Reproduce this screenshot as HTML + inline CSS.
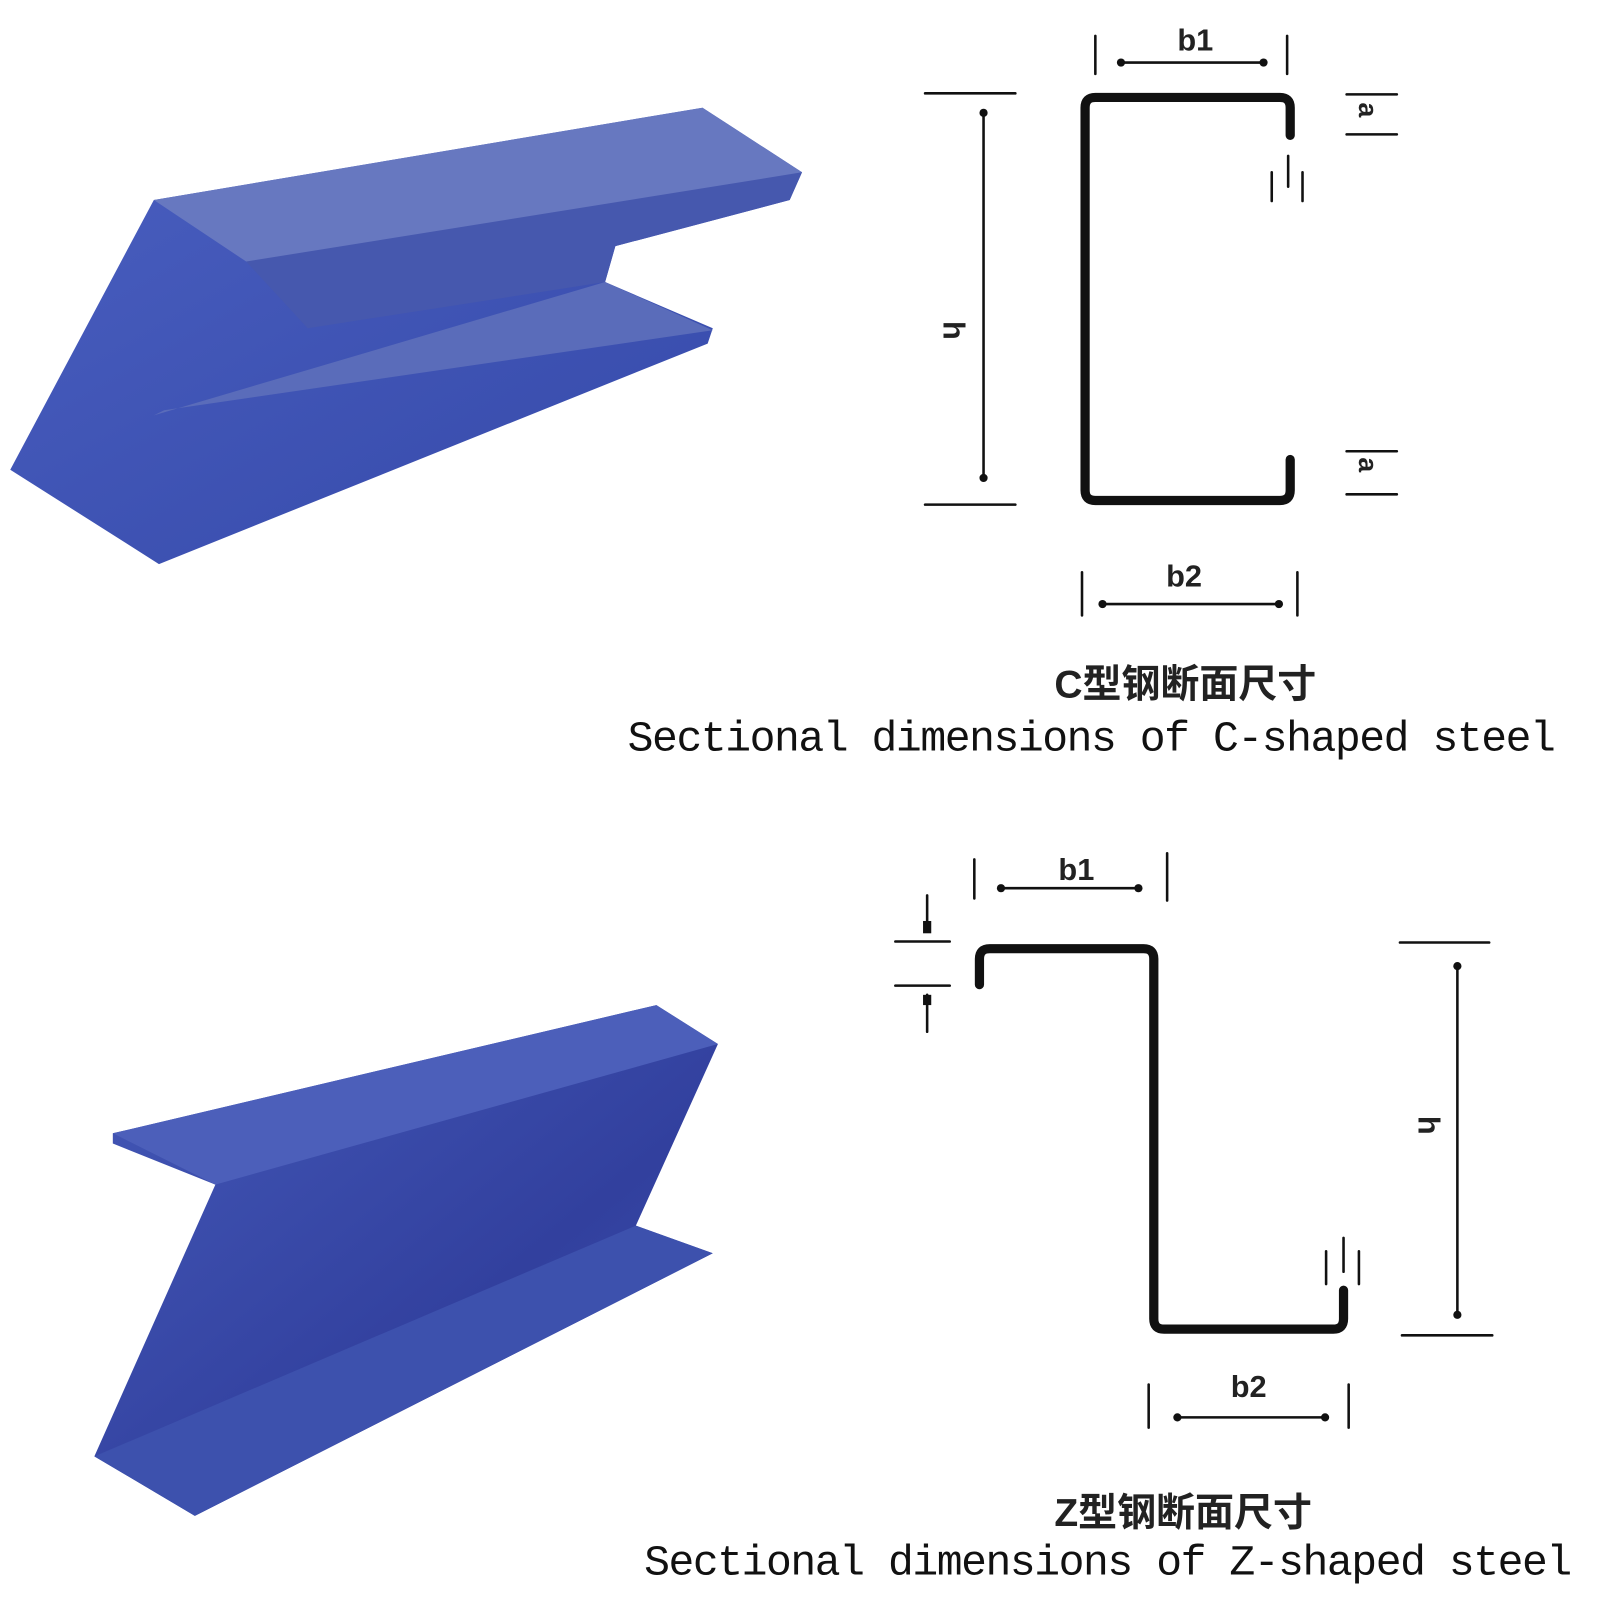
<!DOCTYPE html>
<html><head><meta charset="utf-8"><style>
html,body{margin:0;padding:0;background:#fff;width:1600px;height:1600px;overflow:hidden}
svg{display:block}
.t{font-family:"Liberation Sans","Noto Sans CJK SC",sans-serif;font-weight:bold;fill:#222}
.m{font-family:"Liberation Mono","DejaVu Sans Mono",monospace;fill:#111}
</style></head><body>
<svg width="1600" height="1600" viewBox="0 0 1600 1600" xmlns="http://www.w3.org/2000/svg">
<defs>
<linearGradient id="g1" x1="0" y1="0" x2="1" y2="1"><stop offset="0" stop-color="#4a5fc0"/><stop offset="1" stop-color="#3448a8"/></linearGradient>
<linearGradient id="g2" x1="0" y1="0" x2="1" y2="1"><stop offset="0" stop-color="#4459b8"/><stop offset="0.6" stop-color="#32409e"/><stop offset="1" stop-color="#3d52b0"/></linearGradient>
</defs>
<g transform="scale(1.0256)">
<!-- C beam -->
<polygon points="150,195 685,105 782,168 770,195 600,240 590,275 695,320 690,335 155,550 10,458" fill="url(#g1)"/>
<polygon points="150,195 685,105 782,168 300,295 240,255" fill="#6778c0"/>
<polygon points="240,255 782,168 770,195 600,240 590,275 300,320" fill="#4658ae"/>
<polygon points="150,405 590,275 695,322 160,400" fill="#5a6cba"/>
<!-- Z beam -->
<polygon points="110,1105 640,980 700,1018 620,1195 695,1222 190,1478 92,1420 210,1155 110,1115" fill="url(#g2)"/>
<polygon points="110,1105 640,980 700,1018 210,1155" fill="#4c5fba"/>
<polygon points="92,1420 620,1195 695,1222 190,1478" fill="#3d51ad"/>

<g stroke="#111" fill="none" stroke-linecap="round">
<path d="M1258,132 V105 Q1258,95 1248,95 H1068 Q1058,95 1058,105 V478 Q1058,488 1068,488 H1248 Q1258,488 1258,478 V448" stroke-width="9"/>
<g stroke-width="2.5">
<line x1="1068" y1="35" x2="1068" y2="72"/><line x1="1255" y1="35" x2="1255" y2="72"/>
<line x1="1093" y1="61" x2="1232" y2="61"/>
<line x1="902" y1="91" x2="990" y2="91"/><line x1="902" y1="492" x2="990" y2="492"/>
<line x1="959" y1="110" x2="959" y2="466"/>
<line x1="1055" y1="558" x2="1055" y2="600"/><line x1="1265" y1="558" x2="1265" y2="600"/>
<line x1="1075" y1="589" x2="1247" y2="589"/>
<line x1="1313" y1="92" x2="1362" y2="92"/><line x1="1313" y1="131" x2="1362" y2="131"/>
<line x1="1313" y1="440" x2="1362" y2="440"/><line x1="1313" y1="482" x2="1362" y2="482"/>
<line x1="1240" y1="168" x2="1240" y2="196"/><line x1="1270" y1="168" x2="1270" y2="196"/>
<line x1="1256" y1="152" x2="1256" y2="182"/>
<line x1="950" y1="838" x2="950" y2="876"/><line x1="1138" y1="832" x2="1138" y2="878"/>
<line x1="976" y1="866" x2="1110" y2="866"/>
<line x1="873" y1="918" x2="926" y2="918"/><line x1="873" y1="961" x2="926" y2="961"/>
<line x1="904" y1="873" x2="904" y2="908"/><line x1="904" y1="970" x2="904" y2="1006"/>
<line x1="1365" y1="919" x2="1452" y2="919"/><line x1="1367" y1="1302" x2="1455" y2="1302"/>
<line x1="1421" y1="942" x2="1421" y2="1282"/>
<line x1="1120" y1="1350" x2="1120" y2="1392"/><line x1="1315" y1="1350" x2="1315" y2="1392"/>
<line x1="1148" y1="1382" x2="1292" y2="1382"/>
<line x1="1293" y1="1220" x2="1293" y2="1252"/><line x1="1325" y1="1220" x2="1325" y2="1252"/>
<line x1="1310" y1="1207" x2="1310" y2="1240"/>
</g>
<path d="M955,960 V935 Q955,925 965,925 H1115 Q1125,925 1125,935 V1286 Q1125,1296 1135,1296 H1300 Q1310,1296 1310,1286 V1258" stroke-width="9"/>
</g>
<g fill="#111">
<circle cx="1093" cy="61" r="4"/><circle cx="1232" cy="61" r="4"/>
<circle cx="959" cy="110" r="4"/><circle cx="959" cy="466" r="4"/>
<circle cx="1075" cy="589" r="4"/><circle cx="1247" cy="589" r="4"/>
<circle cx="976" cy="866" r="4"/><circle cx="1110" cy="866" r="4"/>
<circle cx="1421" cy="942" r="4"/><circle cx="1421" cy="1282" r="4"/>
<circle cx="1148" cy="1382" r="4"/><circle cx="1292" cy="1382" r="4"/>
<rect x="900" y="898" width="8" height="12"/><rect x="900" y="970" width="8" height="10"/>
</g>
<text class="t" x="1148" y="49" font-size="30">b1</text>
<text class="t" x="1137" y="572" font-size="30">b2</text>
<text class="t" x="1032" y="858" font-size="30">b1</text>
<text class="t" x="1200" y="1362" font-size="30">b2</text>
<text class="t" font-size="30" transform="translate(920,313) rotate(90)">h</text>
<text class="t" font-size="30" transform="translate(1383,1088) rotate(90)">h</text>
<text class="t" font-size="26" transform="translate(1325,100) rotate(90)">a</text>
<text class="t" font-size="26" transform="translate(1325,446) rotate(90)">a</text>
<text class="t" x="1028" y="680" font-size="38">C型钢断面尺寸</text>
<text class="t" x="1028" y="1488" font-size="38">Z型钢断面尺寸</text>
<text class="m" x="612" y="732" font-size="42" textLength="905">Sectional dimensions of C-shaped steel</text>
<text class="m" x="628" y="1535" font-size="42" textLength="905">Sectional dimensions of Z-shaped steel</text>
</g>
</svg>
</body></html>
